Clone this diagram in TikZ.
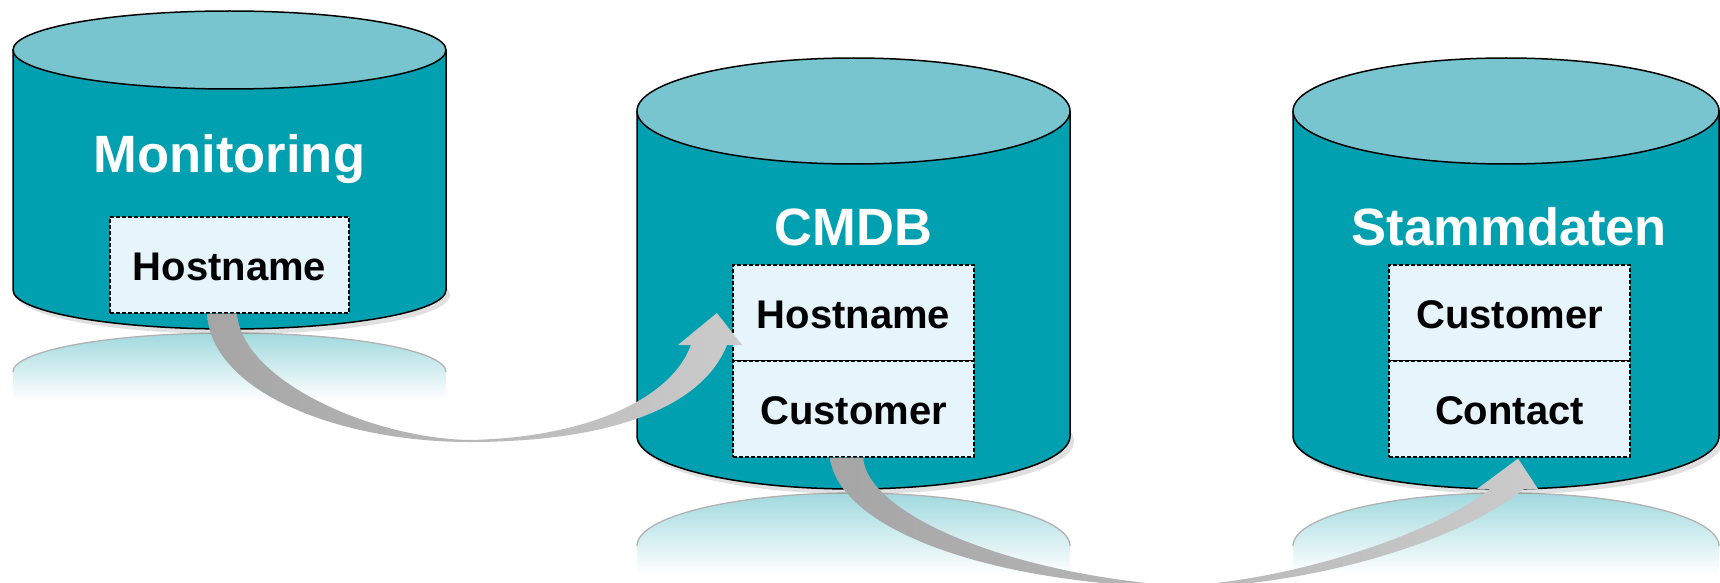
\documentclass[tikz,border=0pt]{standalone}
\usepackage{fontspec}
\setmainfont{Liberation Sans}
\usetikzlibrary{calc}
\definecolor{dbbody}{HTML}{00A0B0}
\definecolor{dblid}{HTML}{79C5CF}
\definecolor{cellfill}{HTML}{E6F4FC}
\definecolor{refl}{HTML}{A0D9DE}
\definecolor{adark}{HTML}{A5A5A5}
\definecolor{alight}{HTML}{CBCBCB}
\tikzset{
  cylbody/.style={fill=dbbody, draw=black, line width=1.5pt, line join=round},
  cyllid/.style={fill=dblid, draw=black, line width=1.5pt},
  cylshadow/.style={fill=black, opacity=0.12},
  refledge/.style={draw=black!30, line width=1.3pt},
  dbtitle/.style={text=white, font=\fontsize{52.5}{60}\selectfont\bfseries, anchor=base, inner sep=0pt},
  cellbox/.style={draw=black, dash pattern=on 4pt off 2pt, line width=1.2pt, fill=cellfill,
    inner sep=0pt, minimum width=241pt, minimum height=96pt, text height=31pt, text depth=0pt,
    font=\fontsize{40}{46}\selectfont\bfseries},
  flow/.style={left color=adark, right color=alight},
}
% cx, rx, top cy, bottom cy, ry
\newcommand\dbcyl[5]{%
  \path[cylshadow] (#1+4,#4+5) ellipse[x radius=#2, y radius=#5];
  \path[cylbody] (#1-#2,#3) -- (#1-#2,#4) arc[start angle=180, end angle=0, x radius=#2, y radius=#5] -- (#1+#2,#3) -- cycle;
  \path[cyllid] (#1,#3) ellipse[x radius=#2, y radius=#5];
}
% cx, rx, cy, ry
\newcommand\dbrefl[4]{%
  \shade[top color=refl, bottom color=white] (#1-#2,#3+28) -- (#1-#2,#3) arc[start angle=180, end angle=360, x radius=#2, y radius=#4] -- (#1+#2,#3+28) -- cycle;
  \path[refledge] (#1-#2,#3) arc[start angle=180, end angle=360, x radius=#2, y radius=#4];
}
\begin{document}
\begin{tikzpicture}[x=1pt,y=-1pt]
\useasboundingbox (0,0) rectangle (1720,583);
\clip (0,0) rectangle (1720,583);
% reflections
\dbrefl{229.5}{216.5}{372}{39}
\dbrefl{853.5}{216.5}{546}{53}
\dbrefl{1506}{213}{546}{53}
% cylinders
\dbcyl{229.5}{216.5}{50}{290}{39}
\dbcyl{853.5}{216.5}{111}{436}{53}
\dbcyl{1506}{213}{111}{436}{53}
% titles
\node[dbtitle] (t1) at (229.5,172) {Monitoring};
\node[dbtitle] (t2) at (853.5,245) {CMDB};
\node[dbtitle] (t3) at (1509.5,245) {Stammdaten};
% cells
\node[cellbox, minimum width=239pt] (m1) at (229.5,265) {Hostname};
\node[cellbox] (c1) at (853.5,313) {Hostname};
\node[cellbox] (c2) at (853.5,409) {Customer};
\node[cellbox] (s1) at (1509.5,313) {Customer};
\node[cellbox] (s2) at (1509.5,409) {Contact};
% arrows
\coordinate (a1s) at ($(m1.south)+(-7.5,0)$);
\coordinate (a1t) at ($(c1.west)+(-15.5,0)$);
\shade[flow] ($(a1s)+(-15,0)$) .. controls (212,395) and (345,442) .. (469,442)
  .. controls (600,442) and (700,412) .. (727,345) -- (742,345) -- (a1t) -- (678,345) -- (691,345)
  .. controls (670,402) and (580,438) .. (469,440)
  .. controls (370,438) and (242,380) .. ($(a1s)+(15,0)$) -- cycle;
\coordinate (a2s) at ($(c2.south)+(-7,0)$);
\coordinate (a2t) at ($(s2.south)+(8.5,1)$);
\shade[flow] ($(a2s)+(-16.5,0)$) .. controls (838,525) and (975,582) .. (1180,588)
  .. controls (1320,585) and (1460,540) .. (1524,489) -- (1538,489) -- (a2t) -- (1477,489) -- (1490,489)
  .. controls (1440,530) and (1300,580) .. (1180,586)
  .. controls (1010,574) and (868,515) .. ($(a2s)+(16.5,0)$) -- cycle;
\end{tikzpicture}
\end{document}
